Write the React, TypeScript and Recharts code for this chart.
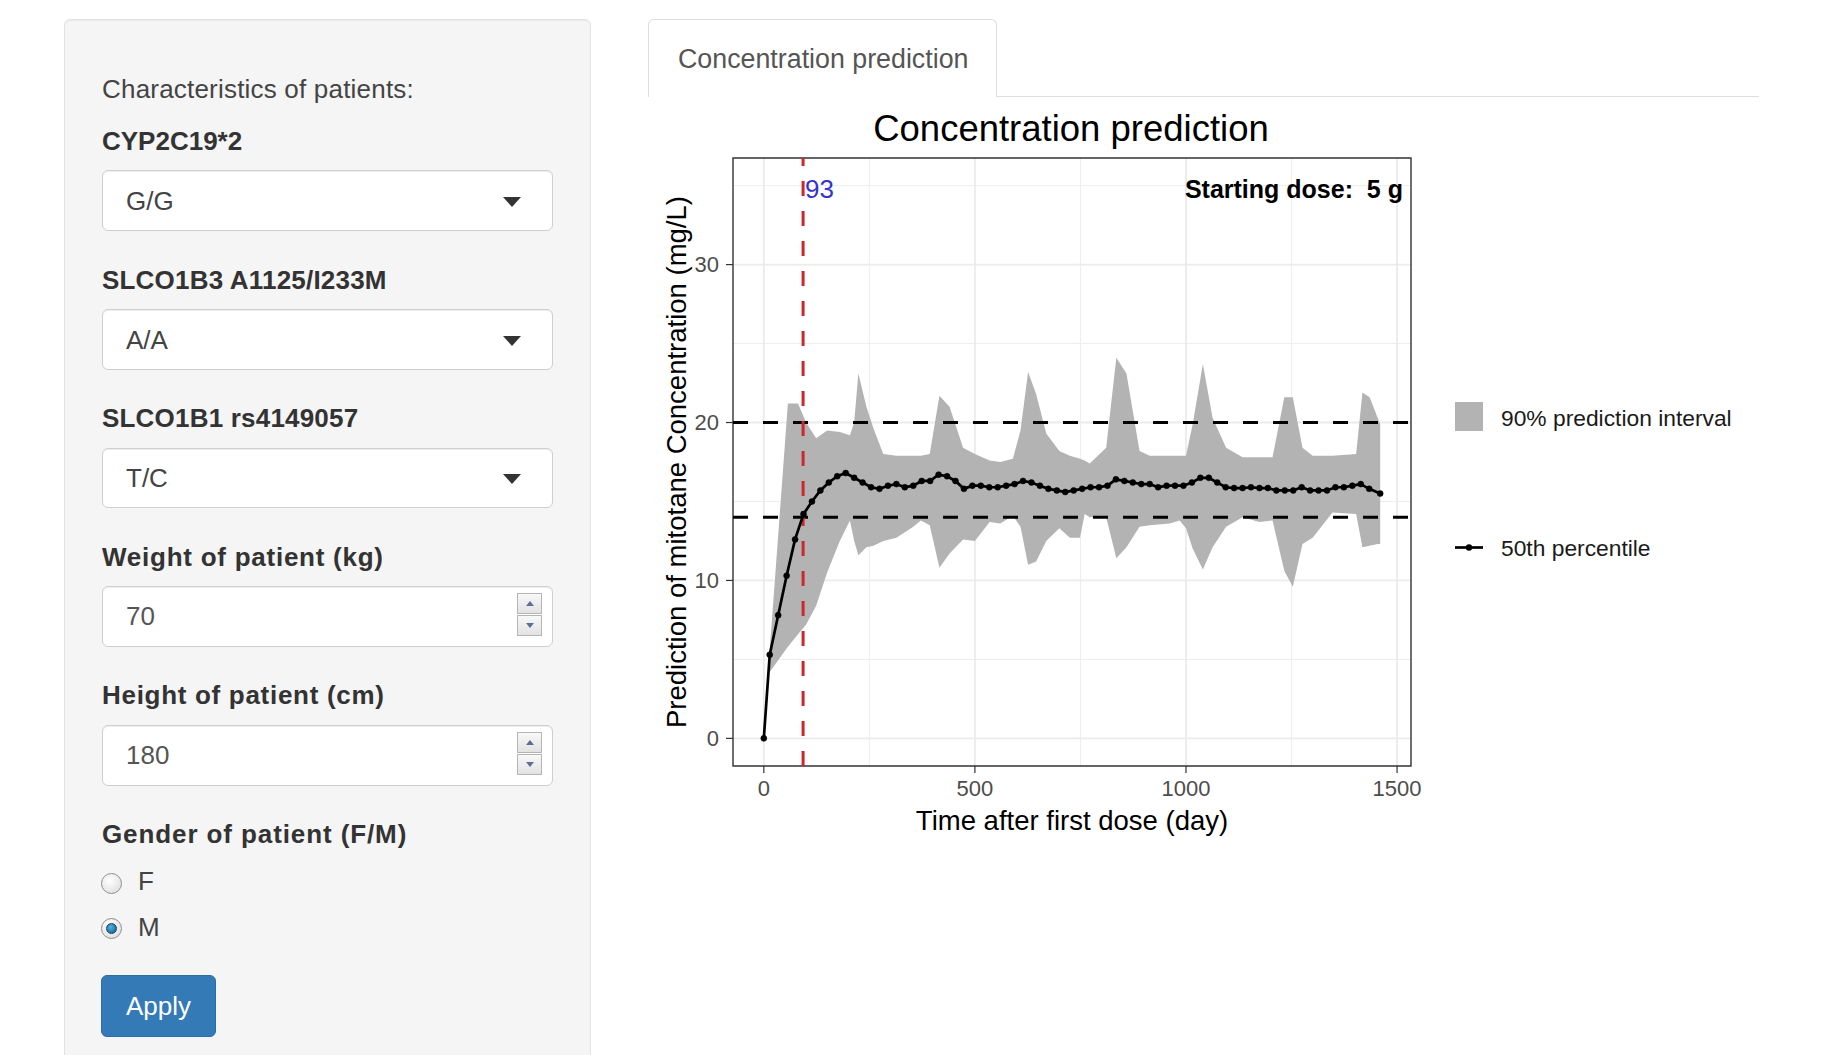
import React from "react";
import {
  ComposedChart,
  Area,
  Line,
  XAxis,
  YAxis,
  CartesianGrid,
  ReferenceLine,
  ReferenceDot,
  ReferenceArea,
  Legend,
} from "recharts";

// 50th percentile of predicted mitotane concentration (mg/L)
const medianDays: number[] = [
  0, 14, 34, 54, 74, 94, 114, 134, 154, 174, 194, 214, 234, 254, 274, 294, 314, 334, 354, 374,
  394, 414, 434, 454, 474, 494, 514, 534, 554, 574, 594, 614, 634, 654, 674, 694, 714, 734, 754,
  774, 794, 814, 834, 854, 874, 894, 914, 934, 954, 974, 994, 1014, 1034, 1054, 1074, 1094, 1114,
  1134, 1154, 1174, 1194, 1214, 1234, 1254, 1274, 1294, 1314, 1334, 1354, 1374, 1394, 1414, 1434,
  1460,
];
const medianConc: number[] = [
  0, 5.3, 7.8, 10.3, 12.6, 14.2, 15.0, 15.7, 16.2, 16.6, 16.8, 16.5, 16.2, 15.9, 15.8, 16.0, 16.1,
  15.9, 16.0, 16.3, 16.3, 16.7, 16.6, 16.3, 15.8, 16.0, 16.0, 15.9, 15.9, 16.0, 16.1, 16.3, 16.2,
  16.0, 15.8, 15.7, 15.6, 15.7, 15.8, 15.9, 15.9, 16.0, 16.4, 16.3, 16.2, 16.1, 16.1, 15.9, 16.0,
  16.0, 16.0, 16.2, 16.5, 16.5, 16.2, 15.9, 15.85, 15.85, 15.9, 15.85, 15.85, 15.7, 15.7, 15.7,
  15.9, 15.7, 15.7, 15.7, 15.9, 15.9, 16.0, 16.1, 15.8, 15.5,
];

// 90% prediction interval
const bandDays: number[] = [
  14, 57, 81, 100, 124, 150, 180, 204, 214, 224, 243, 260, 283, 314, 354, 372, 393, 416, 440, 472,
  500, 535, 560, 590, 608, 626, 645, 669, 700, 725, 749, 760, 772, 811, 835, 859, 890, 914, 961,
  985, 1000, 1016, 1040, 1063, 1095, 1134, 1174, 1205, 1233, 1253, 1276, 1300, 1347, 1403, 1418,
  1435, 1454, 1460,
];
const bandLow: number[] = [
  4.2, 5.8, 6.6, 7.2, 8.4, 10.5, 12.5, 13.8, 12.5, 11.6, 12.1, 12.2, 12.5, 12.7, 13.4, 13.8, 13.5,
  10.8, 11.7, 12.6, 12.5, 13.7, 13.6, 14.1, 13.4, 11.0, 11.2, 12.5, 13.3, 12.7, 12.7, 14.2, 14.0,
  14.0, 11.4, 12.1, 13.4, 13.5, 13.6, 13.8, 13.3, 12.0, 10.7, 12.1, 13.4, 14.0, 13.7, 13.8, 10.6,
  9.6, 12.3, 12.7, 14.3, 14.2, 12.1, 12.2, 12.3, 12.3,
];
const bandHigh: number[] = [
  5.6, 21.2, 21.2, 20.0, 19.0, 19.5, 19.4, 19.2, 20.0, 23.1, 21.0, 19.6, 18.0, 17.9, 17.9, 17.9,
  18.0, 21.7, 21.0, 18.4, 18.0, 17.6, 17.5, 17.7, 19.5, 23.2, 21.8, 19.3, 18.2, 17.9, 17.7, 17.6,
  17.4, 18.4, 24.1, 23.1, 18.2, 17.9, 17.9, 17.9, 17.9, 19.9, 23.7, 20.3, 18.4, 17.8, 17.8, 17.8,
  21.6, 21.6, 18.4, 17.9, 17.9, 18.0, 21.9, 21.6, 20.3, 19.9,
];

const xTicks = [0, 500, 1000, 1500];
const xMinor = [250, 750, 1250];
const yTicks = [0, 10, 20, 30];
const yMinor = [5, 15, 25, 35];
const targetRange = [14, 20];
const dayReached = 93;
const startingDose = "5 g";

const medianData = medianDays.map((day, i) => ({ day, conc: medianConc[i] }));
const bandData = bandDays.map((day, i) => ({ day, range: [bandLow[i], bandHigh[i]] }));

const FONT = '"Liberation Sans", Arial, Helvetica, sans-serif';
const BAND = "#b3b3b3";

const Txt = ({ x, cy, size = 26, bold = false, color = "#333", spacing = 0, children }: any) => (
  <div
    style={{
      position: "absolute",
      left: x,
      top: cy - 18,
      lineHeight: "36px",
      fontSize: size,
      fontWeight: bold ? 700 : 400,
      letterSpacing: spacing,
      color,
      whiteSpace: "nowrap",
    }}
  >
    {children}
  </div>
);

const SelectBox = ({ top, height, value }: any) => (
  <div
    style={{
      position: "absolute",
      left: 102,
      top,
      width: 451,
      height,
      boxSizing: "border-box",
      background: "#fff",
      border: "1px solid #cfcfcf",
      borderRadius: 6,
      boxShadow: "inset 0 1px 1px rgba(0,0,0,.075)",
    }}
  >
    <div style={{ position: "absolute", left: 23, top: height / 2 - 19, lineHeight: "36px", fontSize: 26, color: "#444" }}>
      {value}
    </div>
    <div
      style={{
        position: "absolute",
        left: 400,
        top: height / 2 - 5,
        width: 0,
        height: 0,
        borderLeft: "9px solid transparent",
        borderRight: "9px solid transparent",
        borderTop: "10px solid #333",
      }}
    />
  </div>
);

const NumberBox = ({ top, value }: any) => (
  <div
    style={{
      position: "absolute",
      left: 102,
      top,
      width: 451,
      height: 61,
      boxSizing: "border-box",
      background: "#fff",
      border: "1px solid #cfcfcf",
      borderRadius: 6,
      boxShadow: "inset 0 1px 1px rgba(0,0,0,.075)",
    }}
  >
    <div style={{ position: "absolute", left: 23, top: 11, lineHeight: "36px", fontSize: 26, color: "#555" }}>{value}</div>
    {[0, 1].map((k) => (
      <div
        key={k}
        style={{
          position: "absolute",
          left: 414,
          top: 6 + k * 22,
          width: 25,
          height: 21,
          boxSizing: "border-box",
          border: "1px solid #b5b5b5",
          background: "linear-gradient(#f8f8f8,#e2e2e2)",
        }}
      >
        <div
          style={{
            position: "absolute",
            left: 7.5,
            top: 7,
            width: 0,
            height: 0,
            borderLeft: "4px solid transparent",
            borderRight: "4px solid transparent",
            ...(k === 0 ? { borderBottom: "5px solid #5a6f95" } : { borderTop: "5px solid #5a6f95" }),
          }}
        />
      </div>
    ))}
  </div>
);

const Radio = ({ cy, checked }: any) => (
  <div
    style={{
      position: "absolute",
      left: 101,
      top: cy - 10.5,
      width: 21,
      height: 21,
      boxSizing: "border-box",
      borderRadius: "50%",
      border: "1px solid #8f8f8f",
      background: "radial-gradient(circle at 40% 35%, #ffffff, #d9d9d9)",
    }}
  >
    {checked && (
      <div
        style={{
          position: "absolute",
          left: 4,
          top: 4,
          width: 11,
          height: 11,
          borderRadius: "50%",
          background: "radial-gradient(circle at 40% 35%, #4fb3e0, #0d5a86)",
          border: "1px solid #1d3d55",
          boxSizing: "border-box",
        }}
      />
    )}
  </div>
);

const LegendBox = () => (
  <div style={{ position: "relative", width: 330, height: 170, fontFamily: FONT }}>
    <div style={{ position: "absolute", left: 0, top: 2, width: 28, height: 29, background: BAND }} />
    <div style={{ position: "absolute", left: 46, top: 4, lineHeight: "29px", fontSize: 22.8, color: "#1a1a1a", whiteSpace: "nowrap" }}>
      90% prediction interval
    </div>
    <svg style={{ position: "absolute", left: 0, top: 133 }} width={28} height={29}>
      <line x1={0} x2={28} y1={14.5} y2={14.5} stroke="#000" strokeWidth={2.7} />
      <circle cx={14} cy={14.5} r={3.2} fill="#000" />
    </svg>
    <div style={{ position: "absolute", left: 46, top: 134, lineHeight: "29px", fontSize: 22.8, color: "#1a1a1a", whiteSpace: "nowrap" }}>
      50th percentile
    </div>
  </div>
);

const ConcentrationChart = () => (
  <div style={{ position: "absolute", left: 640, top: 60, width: 1160, height: 800 }}>
    <ComposedChart
      width={1160}
      height={800}
      margin={{ top: 98, right: 389, bottom: 28, left: 33 }}
      style={{ fontFamily: FONT }}
    >
      <CartesianGrid
        stroke="#ebebeb"
        strokeWidth={0.9}
        horizontalValues={yMinor}
        verticalValues={xMinor}
      />
      <CartesianGrid
        stroke="#ebebeb"
        strokeWidth={1.8}
        horizontalValues={yTicks}
        verticalValues={xTicks}
      />
      <XAxis
        type="number"
        dataKey="day"
        domain={[-73, 1533]}
        ticks={xTicks}
        allowDataOverflow
        height={66}
        axisLine={false}
        tickSize={7}
        tickMargin={7}
        tickLine={{ stroke: "#333", strokeWidth: 1.2 }}
        tick={{ fill: "#4d4d4d", fontSize: 22 }}
        label={{ value: "Time after first dose (day)", position: "insideBottom", offset: 2, fill: "#000", fontSize: 27.5 }}
      />
      <YAxis
        type="number"
        domain={[-1.75, 36.75]}
        ticks={yTicks}
        allowDataOverflow
        width={60}
        axisLine={false}
        tickSize={7}
        tickMargin={7}
        tickLine={{ stroke: "#333", strokeWidth: 1.2 }}
        tick={{ fill: "#4d4d4d", fontSize: 22 }}
        label={{
          value: "Prediction of mitotane Concentration (mg/L)",
          angle: -90,
          position: "insideLeft",
          offset: 3,
          fill: "#000",
          fontSize: 27.5,
          style: { textAnchor: "middle" },
        }}
      />
      <Area
        data={bandData}
        dataKey="range"
        type="linear"
        stroke="none"
        fill={BAND}
        fillOpacity={1}
        isAnimationActive={false}
      />
      {targetRange.map((v) => (
        <ReferenceLine key={v} y={v} stroke="#000" strokeWidth={3} strokeDasharray="15 15" />
      ))}
      <ReferenceLine x={dayReached} stroke="#c9282d" strokeWidth={3} strokeDasharray="15 15" />
      <Line
        data={medianData}
        dataKey="conc"
        type="linear"
        stroke="#000"
        strokeWidth={2.7}
        dot={{ r: 3, fill: "#000", stroke: "#000", strokeWidth: 0.5 }}
        isAnimationActive={false}
      />
      <ReferenceDot
        x={dayReached}
        y={35}
        r={0}
        label={{ value: String(dayReached), position: "right", offset: 2, dy: 3.5, fill: "#3535c8", fontSize: 26 }}
      />
      <ReferenceDot
        x={1533}
        y={35}
        r={0}
        ifOverflow="visible"
        label={{
          value: "Starting dose:\u00a0 " + startingDose,
          position: "left",
          offset: 8,
          dy: 3.5,
          fill: "#000",
          fontSize: 25,
          fontWeight: 700,
        }}
      />
      <ReferenceArea
        x1={-73}
        x2={1533}
        y1={-1.75}
        y2={36.75}
        ifOverflow="visible"
        fill="none"
        stroke="#333"
        strokeWidth={1.4}
      />
      <Legend
        layout="horizontal"
        verticalAlign="middle"
        align="center"
        content={() => <LegendBox />}
        wrapperStyle={{ left: 815, top: 340, width: 330, height: 170 }}
      />
    </ComposedChart>
  </div>
);

export default function App() {
  return (
    <div
      style={{
        position: "absolute",
        left: 0,
        top: 0,
        width: 1839,
        height: 1055,
        overflow: "hidden",
        background: "#fff",
        fontFamily: FONT,
      }}
    >
      {/* sidebar */}
      <div
        style={{
          position: "absolute",
          left: 64,
          top: 19,
          width: 527,
          height: 1100,
          boxSizing: "border-box",
          background: "#f5f5f5",
          border: "1px solid #e3e3e3",
          borderRadius: 6,
          boxShadow: "inset 0 1px 1px rgba(0,0,0,.05)",
        }}
      />
      <Txt x={102} cy={89} color="#444" spacing={0.2}>Characteristics of patients:</Txt>
      <Txt x={102} cy={141} bold>CYP2C19*2</Txt>
      <SelectBox top={170} height={61} value="G/G" />
      <Txt x={102} cy={280} bold spacing={0.2}>SLCO1B3 A1125/I233M</Txt>
      <SelectBox top={309} height={61} value="A/A" />
      <Txt x={102} cy={418} bold spacing={0.2}>SLCO1B1 rs4149057</Txt>
      <SelectBox top={448} height={60} value="T/C" />
      <Txt x={102} cy={557} bold spacing={0.75}>Weight of patient (kg)</Txt>
      <NumberBox top={586} value="70" />
      <Txt x={102} cy={695} bold spacing={0.7}>Height of patient (cm)</Txt>
      <NumberBox top={725} value="180" />
      <Txt x={102} cy={834} bold spacing={0.9}>Gender of patient (F/M)</Txt>
      <Radio cy={883} checked={false} />
      <Txt x={138} cy={881} color="#444">F</Txt>
      <Radio cy={928} checked />
      <Txt x={138} cy={927} color="#444">M</Txt>
      <div
        style={{
          position: "absolute",
          left: 101,
          top: 975,
          width: 115,
          height: 62,
          boxSizing: "border-box",
          background: "#337ab7",
          border: "1px solid #2e6da4",
          borderRadius: 6,
          color: "#fff",
          fontSize: 26,
          lineHeight: "60px",
          textAlign: "center",
        }}
      >
        Apply
      </div>

      {/* tab */}
      <div
        style={{
          position: "absolute",
          left: 648,
          top: 19,
          width: 349,
          height: 78,
          boxSizing: "border-box",
          border: "1px solid #ddd",
          borderBottom: "none",
          borderRadius: "6px 6px 0 0",
          background: "#fff",
        }}
      />
      <Txt x={678} cy={59} size={26.8} color="#555">Concentration prediction</Txt>
      <div style={{ position: "absolute", left: 997, top: 96, width: 762, height: 1, background: "#ddd" }} />

      <div
        style={{
          position: "absolute",
          left: 771,
          width: 600,
          top: 108,
          lineHeight: "42px",
          fontSize: 36.5,
          color: "#000",
          textAlign: "center",
        }}
      >
        Concentration prediction
      </div>

      <ConcentrationChart />
    </div>
  );
}
